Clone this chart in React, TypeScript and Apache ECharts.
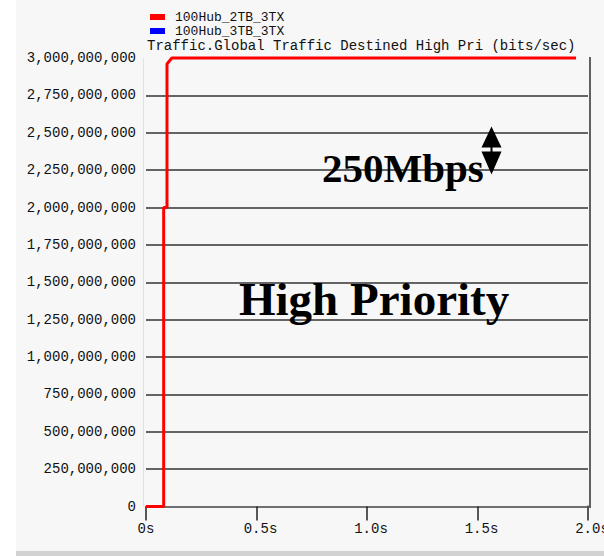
import React, { useEffect, useRef } from "react";
import * as echarts from "echarts";

// ---- data ----
const seriesNames = ["100Hub_2TB_3TX", "100Hub_3TB_3TX"];
const seriesColors = ["#ff0000", "#0000ff"];
const hub2Times = [0, 0.08, 0.08, 0.095, 0.095, 0.117, 1.946];
const hub2Values = [0, 0, 2.0e9, 2.0e9, 2.96e9, 3.0e9, 3.0e9];
const hub3Times: number[] = [];
const hub3Values: number[] = [];
const yMin = 0;
const yMax = 3.0e9;
const yStep = 2.5e8;
const xMin = 0;
const xMax = 2.0;
const xStep = 0.5;
const chartTitle = "Traffic.Global Traffic Destined High Pri (bits/sec)";
const annotationRate = "250Mbps";
const annotationLabel = "High Priority";

const MONO = "Liberation Mono, DejaVu Sans Mono, monospace";
const SERIF = "Liberation Serif, Times New Roman, serif";

function pairs(xs: number[], ys: number[]) {
  return xs.map((x, i) => [x, ys[i]]);
}

export default function App() {
  const ref = useRef<HTMLDivElement>(null);
  useEffect(() => {
    if (!ref.current) return;
    document.documentElement.style.overflow = "hidden";
    document.body.style.margin = "0";
    document.body.style.overflow = "hidden";
    const chart = echarts.init(ref.current, null, { renderer: "svg", width: 604, height: 556 });
    chart.setOption({
      animation: false,
      backgroundColor: "#f7f7f7",
      title: {
        text: chartTitle,
        left: 147,
        top: 39,
        padding: 0,
        textStyle: { fontFamily: MONO, fontSize: 14, fontWeight: "normal", color: "#111", lineHeight: 14 },
      },
      legend: {
        orient: "vertical",
        left: 150,
        top: 10.5,
        padding: 0,
        itemGap: 1,
        itemWidth: 15,
        itemHeight: 6,
        icon: "rect",
        data: seriesNames,
        textStyle: { fontFamily: MONO, fontSize: 13, color: "#111", lineHeight: 13, padding: [0, 0, 0, 5] },
      },
      grid: { left: 146, right: 16, top: 58, bottom: 49.5, containLabel: false, outerBoundsMode: "none" },
      xAxis: {
        type: "value",
        min: xMin,
        max: xMax,
        interval: xStep,
        axisLine: { show: true, lineStyle: { color: "#707070", width: 2 } },
        axisTick: { show: true, length: 14, lineStyle: { color: "#222", width: 1.5 } },
        splitLine: { show: false },
        axisLabel: {
          margin: 15,
          fontFamily: MONO,
          fontSize: 14,
          color: "#111",
          formatter: (v: number) => {
            const s = v === 0 ? "0s" : v.toFixed(1) + "s";
            return v === 0 ? s : "{a|" + s + "}";
          },
          rich: { a: { fontFamily: MONO, fontSize: 14, color: "#111", padding: [0, 0, 0, 8] } },
        },
      },
      yAxis: {
        type: "value",
        min: yMin,
        max: yMax,
        interval: yStep,
        offset: 3,
        axisLine: { show: true, onZero: false, lineStyle: { color: "#e2e2e2", width: 1 } },
        axisTick: { show: false },
        splitLine: { show: true, showMinLine: false, showMaxLine: false, lineStyle: { color: "#333", width: 1.5 } },
        axisLabel: {
          margin: 7,
          fontFamily: MONO,
          fontSize: 14,
          color: "#111",
          padding: [0, 0, 4, 0],
          formatter: (v: number) => v.toLocaleString("en-US"),
        },
      },
      series: [
        {
          name: seriesNames[1],
          type: "line",
          data: pairs(hub3Times, hub3Values),
          showSymbol: false,
          color: seriesColors[1],
          lineStyle: { width: 3, color: seriesColors[1] },
          clip: false,
        },
        {
          name: seriesNames[0],
          type: "line",
          data: pairs(hub2Times, hub2Values),
          showSymbol: false,
          color: seriesColors[0],
          lineStyle: { width: 3, color: seriesColors[0] },
          clip: false,
          z: 5,
        },
      ],
      graphic: [
        { type: "rect", shape: { x: 0, y: 0, width: 16, height: 556 }, style: { fill: "#ffffff" }, z: 100 },
        { type: "rect", shape: { x: 16, y: 551, width: 588, height: 5 }, style: { fill: "#d2d2d2" }, z: 100 },
        {
          type: "rect",
          z: 100,
          shape: { x: 589, y: 57, width: 2, height: 451 },
          style: { fill: "#606060" },
        },
        {
          type: "rect",
          z: 100,
          shape: { x: 587, y: 505.5, width: 4, height: 2 },
          style: { fill: "#606060" },
        },
        {
          type: "text",
          x: 322,
          y: 168,
          z: 100,
          style: { text: annotationRate, font: "bold 41px " + SERIF, fill: "#000", align: "left", verticalAlign: "middle" },
        },
        {
          type: "text",
          x: 239,
          y: 299,
          z: 100,
          style: { text: annotationLabel, font: "bold 47px " + SERIF, fill: "#000", align: "left", verticalAlign: "middle" },
        },
        {
          type: "polygon",
          z: 100,
          shape: { points: [[491.5, 126.5], [481.5, 147.5], [501.5, 147.5]] },
          style: { fill: "#000" },
        },
        {
          type: "polygon",
          z: 100,
          shape: { points: [[481.5, 151.5], [501.5, 151.5], [491.5, 174.5]] },
          style: { fill: "#000" },
        },
        {
          type: "line",
          z: 100,
          shape: { x1: 491.5, y1: 146, x2: 491.5, y2: 153 },
          style: { stroke: "#000", lineWidth: 2 },
        },
      ],
    });
    return () => chart.dispose();
  }, []);
  return (
    <div
      ref={ref}
      style={{ position: "fixed", left: 0, top: 0, width: 604, height: 556, background: "#fff", overflow: "hidden" }}
    />
  );
}
